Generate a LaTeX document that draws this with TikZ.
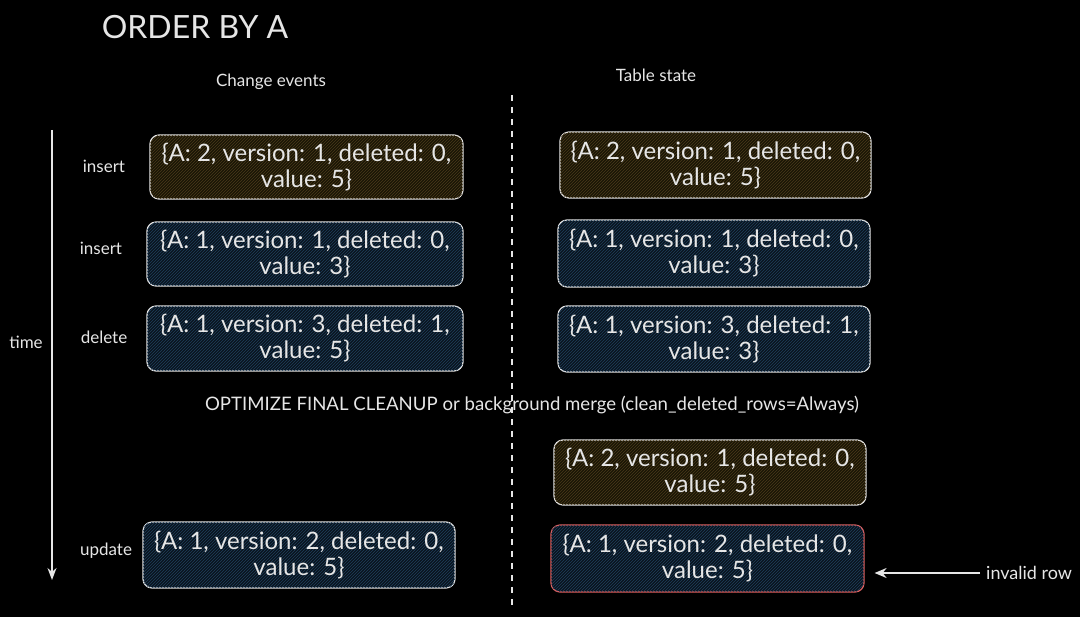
\documentclass[tikz,border=0pt]{standalone}
\usepackage{fontspec}
\setmainfont{Lato}
\usetikzlibrary{patterns,arrows.meta}
\definecolor{bg}{HTML}{000000}
\definecolor{txt}{HTML}{E6E6E6}
\definecolor{brownfill}{HTML}{1A1506}
\definecolor{brownhatch}{HTML}{4A3A1A}
\definecolor{bluefill}{HTML}{0A141E}
\definecolor{bluehatch}{HTML}{1F3F5C}
\definecolor{redline}{HTML}{E06060}
\tikzset{
  rec/.style={draw=txt, line width=1.2pt, rounded corners=9pt, text=txt,
    align=center, font=\fontsize{24}{26}\selectfont, inner sep=0pt},
  brownrec/.style={rec, fill=brownfill, postaction={pattern=north east lines, pattern color=brownhatch}},
  bluerec/.style={rec, fill=bluefill, postaction={pattern=north east lines, pattern color=bluehatch}},
  lbl/.style={text=txt, font=\fontsize{17}{20}\selectfont, inner sep=0pt},
}
\begin{document}
\begin{tikzpicture}[x=1pt,y=-1pt]
\fill[bg] (0,0) rectangle (1080,617);
\useasboundingbox (0,0) rectangle (1080,617);

\node[text=txt, font=\fontsize{32}{34}\selectfont, inner sep=0pt] (title) at (195,27) {ORDER BY A};
\node[lbl] (ce) at (271,82) {Change events};
\node[lbl] (ts) at (656,75) {Table state};

% divider
\coordinate (dtop) at (512,95);
\coordinate (dbot) at (512,605);
\draw[txt, line width=1.2pt, dash pattern=on 6pt off 6pt] (dtop) -- (dbot);

% time arrow
\coordinate (ttop) at (52,130);
\coordinate (tbot) at (52,580);
\draw[txt, line width=1.5pt, -{Stealth[length=12pt,width=9pt]}] (ttop) -- (tbot);
\node[lbl] (time) at (26,342) {time};

% left column
\node[lbl] (l1) at (104,166) {insert};
\node[lbl] (l2) at (101,248) {insert};
\node[lbl] (l3) at (104,337) {delete};
\node[lbl] (l4) at (106,551) {update};

\node[brownrec, minimum width=313pt, minimum height=64pt] (e1) at (306.5,167) {\{A: 2, version: 1, deleted: 0,\\ value: 5\}};
\node[bluerec, minimum width=316pt, minimum height=64pt] (e2) at (305,254) {\{A: 1, version: 1, deleted: 0,\\ value: 3\}};
\node[bluerec, minimum width=316pt, minimum height=65pt] (e3) at (305,338.5) {\{A: 1, version: 3, deleted: 1,\\ value: 5\}};
\node[bluerec, minimum width=312pt, minimum height=66pt] (e4) at (299,555) {\{A: 1, version: 2, deleted: 0,\\ value: 5\}};

% right column
\node[brownrec, minimum width=311pt, minimum height=66pt] (s1) at (715.5,165) {\{A: 2, version: 1, deleted: 0,\\ value: 5\}};
\node[bluerec, minimum width=312pt, minimum height=67pt] (s2) at (714,253.5) {\{A: 1, version: 1, deleted: 0,\\ value: 3\}};
\node[bluerec, minimum width=312pt, minimum height=66pt] (s3) at (714,339) {\{A: 1, version: 3, deleted: 1,\\ value: 3\}};

\node[text=txt, font=\fontsize{18.6}{20}\selectfont, inner sep=0pt] (opt) at (532,405) {OPTIMIZE FINAL CLEANUP or background merge (clean\_deleted\_rows=Always)};

\node[brownrec, minimum width=312pt, minimum height=65pt] (s4) at (710,472.5) {\{A: 2, version: 1, deleted: 0,\\ value: 5\}};
\node[bluerec, draw=redline, minimum width=313pt, minimum height=67pt] (s5) at (707.5,558.5) {\{A: 1, version: 2, deleted: 0,\\ value: 5\}};

\node[lbl, font=\fontsize{18}{20}\selectfont, anchor=west] (inv) at (986,573) {invalid row};
\draw[txt, line width=1.5pt, -{Stealth[length=12pt,width=10pt]}] (inv.west) ++(-6,0) -- ([xshift=10pt]s5.east |- inv.west);
\end{tikzpicture}
\end{document}
